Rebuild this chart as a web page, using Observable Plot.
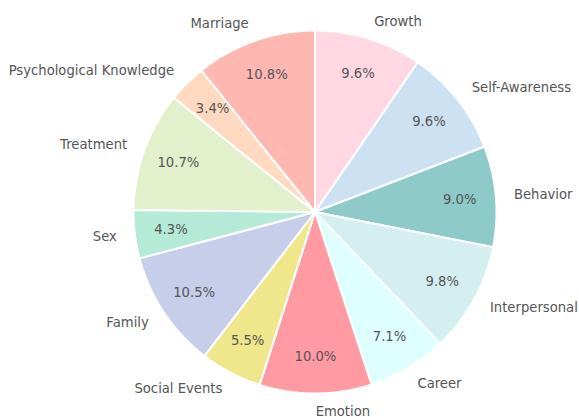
<!DOCTYPE html>
<html><head><meta charset="utf-8">
<script src="https://cdn.jsdelivr.net/npm/d3@7"></script>
<script src="https://cdn.jsdelivr.net/npm/@observablehq/plot@0.6"></script>
<style>body{margin:0;background:#fff;} svg{display:block;}</style>
</head><body><div id="chart"></div>
<script>
// Data (clockwise from 12 o'clock)
const categories = ["Growth","Self-Awareness","Behavior","Interpersonal","Career","Emotion","Social Events","Family","Sex","Treatment","Psychological Knowledge","Marriage"];
const values = [9.6, 9.6, 9.0, 9.8, 7.1, 10.0, 5.5, 10.5, 4.3, 10.7, 3.4, 10.8];
const colors = ["#FFD8E4","#CCE1F2","#8FCACA","#D4EFF0","#DFFEFE","#FF9AA2","#F0E68C","#C7CEEA","#B5EAD7","#E2F0CB","#FFDAC1","#FFB7B2"];

// Layout
const W = 579, H = 417, cx = 314.5, cy = 211.5, R = 181.5;
const labelDist = 1.1, pctDist = 0.8;

const total = d3.sum(values);
const arcs = d3.pie().sort(null).startAngle(0).endAngle(2 * Math.PI)(values);

const polys = [];
arcs.forEach((a, i) => {
  const cat = categories[i];
  polys.push({cat, x: 0, y: 0});
  const n = Math.max(2, Math.ceil((a.endAngle - a.startAngle) / 0.005));
  for (let k = 0; k <= n; k++) {
    const t = a.startAngle + (a.endAngle - a.startAngle) * k / n;
    polys.push({cat, x: Math.sin(t), y: Math.cos(t)});
  }
  polys.push({cat, x: 0, y: 0});
});

const labels = arcs.map((a, i) => {
  const m = (a.startAngle + a.endAngle) / 2;
  return {
    cat: categories[i],
    pct: (values[i] / total * 100).toFixed(1) + "%",
    lx: labelDist * Math.sin(m), ly: labelDist * Math.cos(m),
    px: pctDist * Math.sin(m), py: pctDist * Math.cos(m)
  };
});

const font = "DejaVu Sans, sans-serif";
const fs = 13.2;
const chart = Plot.plot({
  width: W, height: H,
  margin: 0,
  x: {domain: [-cx / R, (W - cx) / R], range: [0, W], axis: null},
  y: {domain: [-(H - cy) / R, cy / R], range: [H, 0], axis: null},
  color: {domain: categories, range: colors},
  style: {fontFamily: font, background: "#fff"},
  marks: [
    Plot.line(polys, {x: "x", y: "y", z: "cat", fill: "cat", stroke: "#fff", strokeWidth: 2, strokeLinejoin: "round"}),
    Plot.text(labels, {x: "px", y: "py", text: "pct", fill: "#555", fontSize: fs, lineAnchor: "middle", textAnchor: "middle"}),
    Plot.text(labels.filter(d => d.lx > 0), {x: "lx", y: "ly", text: "cat", fill: "#555", fontSize: fs, lineAnchor: "middle", textAnchor: "start"}),
    Plot.text(labels.filter(d => d.lx <= 0), {x: "lx", y: "ly", text: "cat", fill: "#555", fontSize: fs, lineAnchor: "middle", textAnchor: "end"})
  ]
});
document.getElementById("chart").appendChild(chart);
</script>
</body></html>
